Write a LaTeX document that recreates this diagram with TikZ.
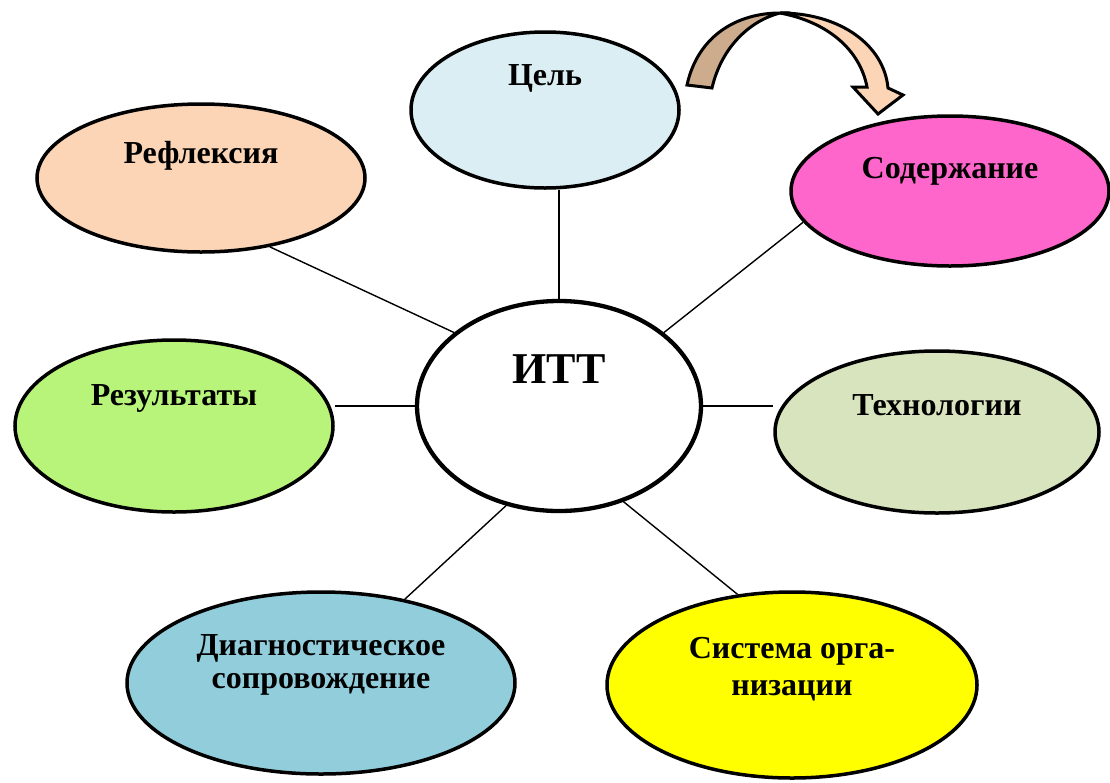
\documentclass[tikz,border=0pt]{standalone}
\usepackage{fontspec}
\setmainfont{Liberation Serif}
\usetikzlibrary{shapes.geometric}
\definecolor{celfill}{HTML}{DAEEF3}
\definecolor{reflfill}{HTML}{FBD5B5}
\definecolor{sodfill}{HTML}{FF66CC}
\definecolor{rezfill}{HTML}{B9F47A}
\definecolor{techfill}{HTML}{D7E4BD}
\definecolor{diagfill}{HTML}{92CDDC}
\definecolor{sysfill}{HTML}{FFFF00}
\definecolor{tanfill}{HTML}{CDAC8E}
\tikzset{bubble/.style={ellipse, draw, line width=3.5pt, inner sep=0pt,
    text height=24pt, align=center,
    font=\bfseries\fontsize{32}{34}\selectfont}}
\tikzset{spoke/.style={line width=1.4pt}}

\begin{document}
\begin{tikzpicture}[x=1pt,y=-1pt]
                \useasboundingbox (0,0) rectangle (1110,782);

                % Ellipses
                \node[bubble, fill=celfill, minimum width=268pt, minimum height=156pt, text depth=74pt] (cel) at (545,110) {Цель};
                \node[bubble, fill=reflfill, minimum width=328pt, minimum height=148pt, text depth=54pt] (refl) at (201,178) {Рефлексия};
                \node[bubble, fill=sodfill, minimum width=318pt, minimum height=150pt, text depth=50pt] (sod) at (950,191) {Содержание};
                \node[bubble, fill=white, line width=4.3pt, minimum width=284pt, minimum height=210pt, text height=32pt, text depth=78pt,
                    font=\bfseries\fontsize{44}{48}\selectfont] (itt) at (559,406) {ИТТ};
                \node[bubble, fill=rezfill, minimum width=318pt, minimum height=172pt, text depth=66pt] (rez) at (174,426) {Результаты};
                \node[bubble, fill=techfill, minimum width=324pt, minimum height=162pt, text depth=58pt] (tech) at (937,432) {Технологии};
                \node[bubble, fill=diagfill, minimum width=388pt, minimum height=182pt, text depth=14pt] (diag) at (321,683) {Диагностическое\\[-1pt]сопровождение};
                \node[bubble, fill=sysfill, minimum width=370pt, minimum height=186pt, text depth=4pt] (sys) at (792,685) {Система орга-\\[3pt]низации};

                % Spokes
                \draw[spoke] (itt.north) -- (itt.north |- cel.south);
                \draw[spoke] (itt.145) -- (refl.-45);
                \draw[spoke] (itt.35) -- (sod.192);
                \draw[spoke] (itt.west) -- (itt.west -| rez.east);
                \draw[spoke] (itt.east) -- (itt.east -| tech.west);
                \draw[spoke] (itt.-118) -- (diag.45);
                \draw[spoke] (itt.-56) -- (sys.121);

                % Curved arrow
                \filldraw[fill=tanfill, line width=3pt, line join=miter]
                    (687,85) .. controls (698,35) and (738,13) .. (780,13)
                    .. controls (752,20) and (722,45) .. (712,88) -- cycle;
                \filldraw[fill=reflfill, line width=3pt, line join=miter]
                    (780,13) .. controls (840,13) and (884,45) .. (888,88)
                    -- (903,95) -- (878,114) -- (853,87) -- (867,87)
                    .. controls (860,50) and (828,22) .. (780,13) -- cycle;
            \end{tikzpicture}
\end{document}
